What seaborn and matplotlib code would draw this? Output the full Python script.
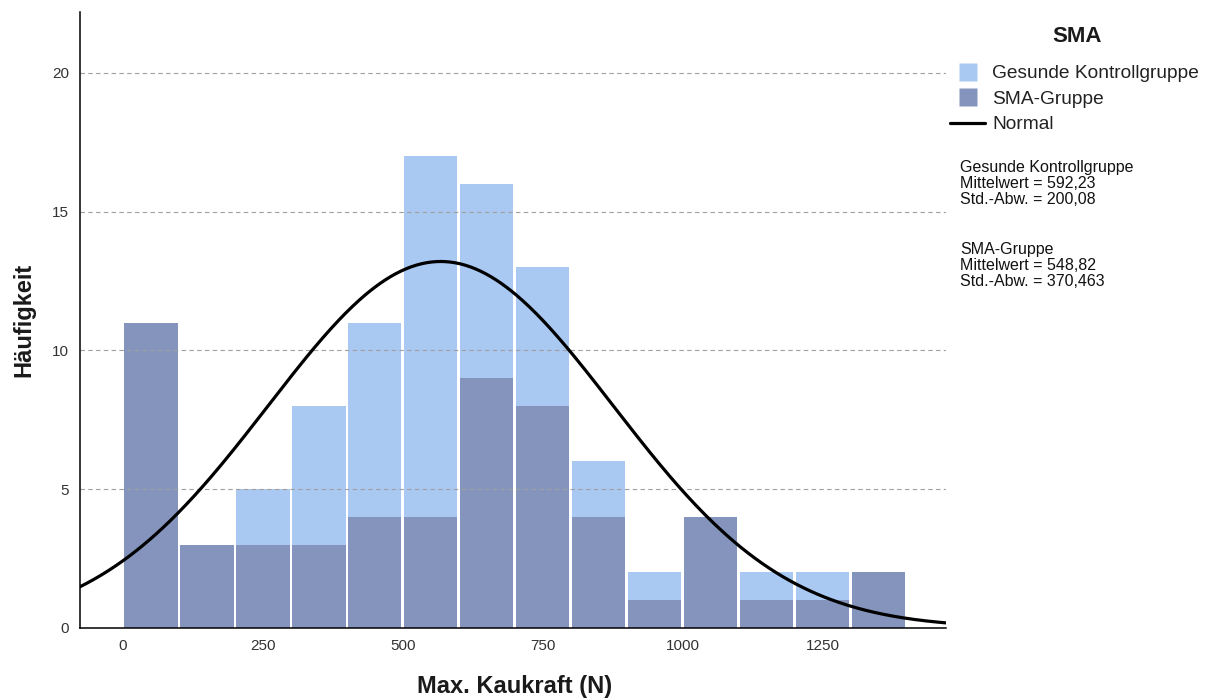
import numpy as np
import pandas as pd
import matplotlib
matplotlib.use("Agg")
import matplotlib.pyplot as plt
import seaborn as sns
from matplotlib.lines import Line2D

# Data (bins of width 100 N, from 0 to 1400)
bin_starts = [0, 100, 200, 300, 400, 500, 600, 700, 800, 900, 1000, 1100, 1200, 1300]
sma_counts = [11, 3, 3, 3, 4, 4, 9, 8, 4, 1, 4, 1, 1, 2]
ctrl_counts = [0, 0, 2, 5, 7, 13, 7, 5, 2, 1, 0, 1, 1, 0]
groups = ["Gesunde Kontrollgruppe", "SMA-Gruppe"]
group_means = [592.23, 548.82]
group_sds = [200.08, 370.463]
mean_labels = ["592,23", "548,82"]
sd_labels = ["200,08", "370,463"]
y_ticks = [0, 5, 10, 15, 20]
x_ticks = [0, 250, 500, 750, 1000, 1250]

col_ctrl = "#A9C9F2"
col_sma = "#8494BC"

centers = np.array(bin_starts) + 50
df = pd.DataFrame({
    "x": np.concatenate([np.repeat(centers, ctrl_counts), np.repeat(centers, sma_counts)]),
    "Gruppe": [groups[0]] * sum(ctrl_counts) + [groups[1]] * sum(sma_counts),
})

sns.set_theme(style="white")
plt.rcParams["font.family"] = ["Liberation Sans", "DejaVu Sans"]

fig = plt.figure(figsize=(12.11, 7.0), dpi=100)
ax = fig.add_axes([0.066, 0.103, 0.715, 0.88])

sns.histplot(data=df, x="x", hue="Gruppe", hue_order=groups,
             bins=np.arange(0, 1500, 100), multiple="stack", shrink=0.95,
             palette={groups[0]: col_ctrl, groups[1]: col_sma},
             alpha=1, linewidth=0, legend=False, ax=ax)

for y in y_ticks[1:]:
    ax.axhline(y, color="#A0A0A0", lw=0.8, ls=(0, (4, 3)), zorder=2.5)

# Normal curve for the combined sample
n1, n2 = sum(ctrl_counts), sum(sma_counts)
N = n1 + n2
M = (n1 * group_means[0] + n2 * group_means[1]) / N
var = ((n1 - 1) * group_sds[0] ** 2 + (n2 - 1) * group_sds[1] ** 2
       + n1 * (group_means[0] - M) ** 2 + n2 * (group_means[1] - M) ** 2) / (N - 1)
sd = np.sqrt(var)
xs = np.linspace(-77, 1470, 500)
ys = N * 100 / (sd * np.sqrt(2 * np.pi)) * np.exp(-0.5 * ((xs - M) / sd) ** 2)
ax.plot(xs, ys, color="black", lw=2.3, zorder=3)

ax.set_xlim(-77, 1470)
ax.set_ylim(0, 22.2)
ax.set_xticks(x_ticks)
ax.set_yticks(y_ticks)
ax.tick_params(length=0, labelsize=11, labelcolor="#333333", pad=8)
for s in ["top", "right"]:
    ax.spines[s].set_visible(False)
for s in ["left", "bottom"]:
    ax.spines[s].set_color("black")
    ax.spines[s].set_linewidth(1.1)
ax.set_xlabel("Max. Kaukraft (N)", fontsize=17, fontweight="bold", color="#1a1a1a")
ax.xaxis.set_label_coords(0.5 + (515 - 513) / 866, -0.077)
ax.set_ylabel("Häufigkeit", fontsize=17, fontweight="bold", color="#1a1a1a")
ax.yaxis.set_label_coords(-0.052, 0.5)

fig.text(1077 / 1211, 1 - 37 / 700, "SMA", fontsize=16, fontweight="bold",
         ha="center", va="center", color="#1a1a1a")

handles = [Line2D([0], [0], marker="s", markersize=13, linestyle="none",
                  markerfacecolor=col_ctrl, markeredgecolor="none"),
           Line2D([0], [0], marker="s", markersize=13, linestyle="none",
                  markerfacecolor=col_sma, markeredgecolor="none"),
           Line2D([0], [0], color="black", lw=2.3)]
leg = fig.legend(handles, groups + ["Normal"], loc="upper left",
                 bbox_to_anchor=(950 / 1211, 1 - 65 / 700), frameon=False,
                 fontsize=13.8, borderpad=0, borderaxespad=0,
                 handlelength=1.83, handletextpad=0.36, labelspacing=0.42)
for t in leg.get_texts():
    t.set_color("#222222")

txt = "{}\nMittelwert = {}\nStd.-Abw. = {}".format(groups[0], mean_labels[0], sd_labels[0])
fig.text(960 / 1211, 1 - 160 / 700, txt, fontsize=11.5, va="top", linespacing=1.1,
         color="#111111")
txt2 = "{}\nMittelwert = {}\nStd.-Abw. = {}".format(groups[1], mean_labels[1], sd_labels[1])
fig.text(960 / 1211, 1 - 242 / 700, txt2, fontsize=11.5, va="top", linespacing=1.1,
         color="#111111")

fig.savefig("out.png", dpi=100)
